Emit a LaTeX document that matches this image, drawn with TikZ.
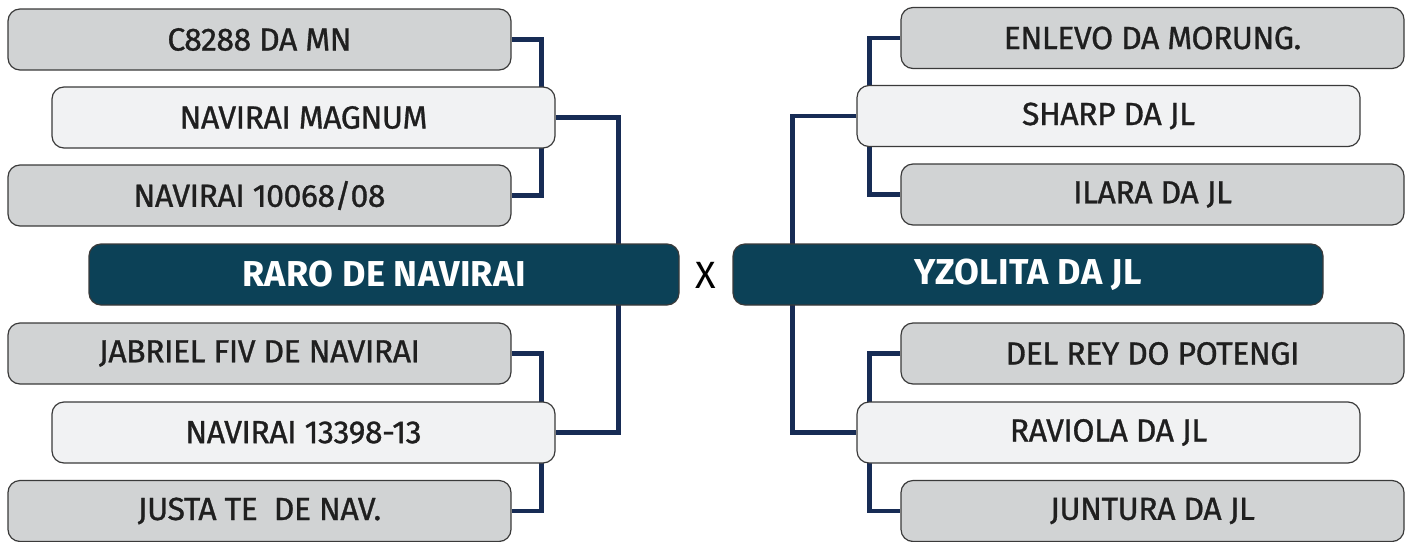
\documentclass[tikz,border=0pt]{standalone}
\usepackage{fontspec}
\setmainfont{Fira Sans}
\newfontfamily\boxfont[FakeBold=0.9,LetterSpace=-1.5]{Fira Sans}
\newfontfamily\champfont[LetterSpace=1]{Fira Sans Bold}
\usetikzlibrary{backgrounds}
\definecolor{boxgray}{HTML}{D1D3D4}
\definecolor{boxlight}{HTML}{F1F2F3}
\definecolor{teamblue}{HTML}{0C4157}
\definecolor{linknavy}{HTML}{172C55}
\definecolor{edgegray}{HTML}{3A3A3A}
\begin{document}
\begin{tikzpicture}[x=1pt,y=-1pt,
  horse/.style={draw=edgegray,line width=1.2pt,rounded corners=12pt,minimum width=503pt,
    minimum height=61pt,inner sep=0pt,text=black!88,font=\boxfont\fontsize{32}{36}\selectfont},
  grand/.style={horse,fill=boxgray},
  sire/.style={horse,fill=boxlight},
  champ/.style={horse,fill=teamblue,minimum width=590pt,text=white,
    font=\champfont\fontsize{36}{40}\selectfont},
  link/.style={draw=linknavy,line width=4.5pt}]
  \useasboundingbox (0,0) rectangle (1412,541);
  % left side
  \node[grand] (mn) at (259.5,39.5) {C8288 DA MN};
  \node[sire] (magnum) at (303.5,117.5) {NAVIRAI MAGNUM};
  \node[grand] (n10068) at (259.5,195.5) {NAVIRAI 10068/08};
  \node[champ] (raro) at (384,274.5) {RARO DE NAVIRAI};
  \node[grand] (jabriel) at (259.5,353.5) {JABRIEL FIV DE NAVIRAI};
  \node[sire] (n13398) at (303.5,432.5) {NAVIRAI 13398-13};
  \node[grand] (justa) at (259.5,511) {JUSTA TE\ \ DE NAV.};
  % right side
  \node[grand] (enlevo) at (1152.5,38) {ENLEVO DA MORUNG.};
  \node[sire] (sharp) at (1108.5,116) {SHARP DA JL};
  \node[grand] (ilara) at (1152.5,194.5) {ILARA DA JL};
  \node[champ] (yzolita) at (1028,274.5) {YZOLITA DA JL};
  \node[grand] (delrey) at (1152.5,353.5) {DEL REY DO POTENGI};
  \node[sire] (raviola) at (1108.5,432.5) {RAVIOLA DA JL};
  \node[grand] (juntura) at (1152.5,511) {JUNTURA DA JL};
  \node[font=\fontsize{38}{42}\selectfont] (versus) at (706,275) {X};
  \begin{scope}[on background layer]
    \draw[link] (mn.east) -- ++(30,0) |- (n10068.east);
    \draw[link] (magnum.east) -- ++(63,0) |- (n13398.east);
    \draw[link] (jabriel.east) -- ++(30,0) |- (justa.east);
    \draw[link] (enlevo.west) -- ++(-31,0) |- (ilara.west);
    \draw[link] (sharp.west) -- ++(-64,0) |- (raviola.west);
    \draw[link] (delrey.west) -- ++(-31,0) |- (juntura.west);
  \end{scope}
\end{tikzpicture}
\end{document}
